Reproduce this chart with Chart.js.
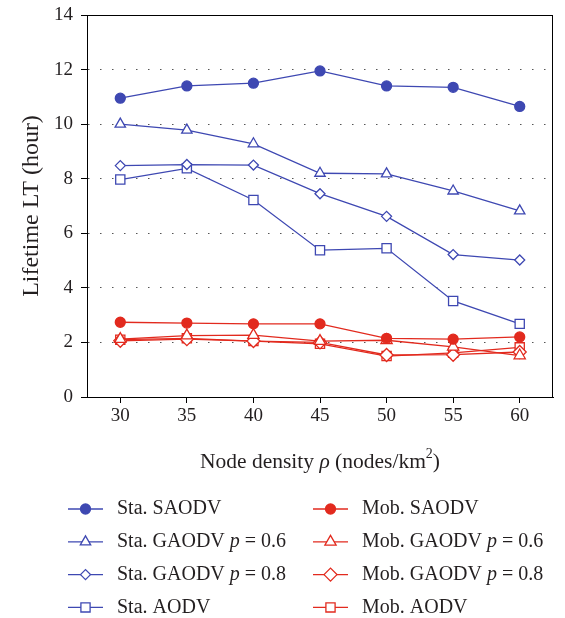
<!DOCTYPE html>
<html>
<head>
<meta charset="utf-8">
<script src="https://cdn.jsdelivr.net/npm/chart.js@4.4.0/dist/chart.umd.min.js"></script>
<style>
  html, body { margin: 0; padding: 0; background: #fff; }
</style>
</head>
<body>
<canvas id="myChart" width="565" height="618"></canvas>
<script>
// node density (x categories)
const densities = ['30', '35', '40', '45', '50', '55', '60'];
const yTicks = [0, 2, 4, 6, 8, 10, 12, 14];

// static nodes
const staSAODV  = [10.95, 11.4, 11.5, 11.95, 11.4, 11.35, 10.65];
const staGAODV6 = [10.0, 9.78, 9.28, 8.2, 8.18, 7.55, 6.82];
const staGAODV8 = [8.48, 8.52, 8.5, 7.45, 6.62, 5.22, 5.02];
const staAODV   = [7.97, 8.38, 7.22, 5.38, 5.45, 3.52, 2.68];

// mobile nodes
const mobSAODV  = [2.74, 2.71, 2.68, 2.68, 2.15, 2.12, 2.2];
const mobGAODV6 = [2.12, 2.25, 2.27, 2.05, 2.08, 1.84, 1.52];
const mobGAODV8 = [2.06, 2.12, 2.05, 2.0, 1.54, 1.55, 1.65];
const mobAODV   = [2.1, 2.15, 2.05, 1.95, 1.5, 1.62, 1.82];

const BLUE = 'rgb(62, 72, 178)';
const RED = 'rgb(226, 42, 30)';
const SERIF = '"Liberation Serif", "DejaVu Serif", serif';
const TXT = '#231f20';

function series(label, data, color, style, radius, filled) {
    return {
        label: label,
        data: data,
        borderColor: color,
        backgroundColor: filled ? color : '#fff',
        borderWidth: 1.3,
        pointStyle: style,
        pointRadius: radius,
        pointBorderWidth: 1.3,
        pointBackgroundColor: filled ? color : '#fff',
        pointBorderColor: color,
        tension: 0
    };
}

// legend text pieces, italic bits marked
const legendParts = [
    [{t: 'Sta. SAODV'}],
    [{t: 'Sta. GAODV '}, {t: 'p', i: true}, {t: ' = 0.6'}],
    [{t: 'Sta. GAODV '}, {t: 'p', i: true}, {t: ' = 0.8'}],
    [{t: 'Sta. AODV'}],
    [{t: 'Mob. SAODV'}],
    [{t: 'Mob. GAODV '}, {t: 'p', i: true}, {t: ' = 0.6'}],
    [{t: 'Mob. GAODV '}, {t: 'p', i: true}, {t: ' = 0.8'}],
    [{t: 'Mob. AODV'}]
];

function drawRich(ctx, parts, x, y, size, align) {
    let total = 0;
    parts.forEach(p => {
        const s = p.sup ? size * 0.65 : size;
        ctx.font = (p.i ? 'italic ' : '') + s + 'px ' + SERIF;
        p.w = ctx.measureText(p.t).width;
        total += p.w;
    });
    let cx = align === 'center' ? x - total / 2 : x;
    parts.forEach(p => {
        const s = p.sup ? size * 0.65 : size;
        ctx.font = (p.i ? 'italic ' : '') + s + 'px ' + SERIF;
        ctx.fillText(p.t, cx, p.sup ? y - size * 0.38 : y);
        cx += p.w;
    });
}

const extras = {
    id: 'extras',
    afterDraw(chart) {
        const ctx = chart.ctx;
        const a = chart.chartArea;
        ctx.save();
        // frame
        ctx.strokeStyle = '#000';
        ctx.lineWidth = 1;
        ctx.strokeRect(a.left + 0.5, a.top + 0.5, a.right - a.left - 1, a.bottom - a.top);

        // x title
        ctx.fillStyle = TXT;
        ctx.textBaseline = 'middle';
        ctx.textAlign = 'left';
        drawRich(ctx, [{t: 'Node density '}, {t: 'ρ', i: true}, {t: ' (nodes/km'}, {t: '2', sup: true}, {t: ')'}],
            (a.left + a.right) / 2, 462, 21.5, 'center');

        // legend, two columns of four
        chart.data.datasets.forEach((ds, i) => {
            const col = Math.floor(i / 4), row = i % 4;
            const lx = col === 0 ? 68 : 313;
            const ly = 509 + row * 32.8;
            ctx.strokeStyle = ds.borderColor;
            ctx.lineWidth = 1.3;
            ctx.beginPath();
            ctx.moveTo(lx, ly);
            ctx.lineTo(lx + 35, ly);
            ctx.stroke();
            ctx.fillStyle = ds.pointBackgroundColor;
            Chart.helpers.drawPoint(ctx, {
                pointStyle: ds.pointStyle,
                radius: ds.pointRadius,
                rotation: 0,
                borderWidth: 1.3
            }, lx + 17.5, ly);
            ctx.fillStyle = TXT;
            drawRich(ctx, legendParts[i], lx + 49, ly, 20, 'left');
        });
        ctx.restore();
    }
};

const ctx = document.getElementById('myChart').getContext('2d');
const chart = new Chart(ctx, {
    type: 'line',
    data: {
        labels: densities,
        datasets: [
            series('Sta. SAODV', staSAODV, BLUE, 'circle', 5, true),
            series('Sta. GAODV p = 0.6', staGAODV6, BLUE, 'triangle', 6, false),
            series('Sta. GAODV p = 0.8', staGAODV8, BLUE, 'rectRot', 5, false),
            series('Sta. AODV', staAODV, BLUE, 'rect', 6.5, false),
            series('Mob. SAODV', mobSAODV, RED, 'circle', 5, true),
            series('Mob. GAODV p = 0.6', mobGAODV6, RED, 'triangle', 6.5, false),
            series('Mob. GAODV p = 0.8', mobGAODV8, RED, 'rectRot', 6.5, false),
            series('Mob. AODV', mobAODV, RED, 'rect', 6.5, false)
        ]
    },
    options: {
        responsive: false,
        animation: false,
        layout: { padding: { top: 15, right: 12, left: 0, bottom: 191 } },
        plugins: {
            legend: { display: false },
            tooltip: { enabled: false }
        },
        scales: {
            x: {
                type: 'category',
                offset: true,
                grid: {
                    offset: false,
                    drawOnChartArea: false,
                    tickLength: 6,
                    tickColor: '#000',
                    tickWidth: 1
                },
                border: { color: '#000', width: 1 },
                ticks: { color: TXT, font: { family: SERIF, size: 19 }, padding: 2, maxRotation: 0 },
                afterFit(scale) {
                    scale.height = 30;
                    scale.paddingLeft = 0;
                    scale.paddingRight = 0;
                }
            },
            y: {
                min: 0,
                max: 14,
                afterBuildTicks(scale) { scale.ticks = yTicks.map(v => ({ value: v })); },
                grid: {
                    color: c => (c.tick && (c.tick.value === 0 || c.tick.value === 14)) ? 'rgba(0,0,0,0)' : '#555',
                    lineWidth: 1,
                    tickLength: 6,
                    tickColor: '#000',
                    tickWidth: 1
                },
                border: { color: '#000', width: 1, dash: [1.5, 10.5] },
                ticks: { color: TXT, font: { family: SERIF, size: 19 }, padding: 8 },
                title: {
                    display: true,
                    text: 'Lifetime LT (hour)',
                    color: TXT,
                    font: { family: SERIF, size: 24 },
                    padding: { top: 17, bottom: 0 }
                },
                afterFit(scale) {
                    scale.width = 87;
                    scale.paddingTop = 0;
                    scale.paddingBottom = 0;
                }
            }
        }
    },
    plugins: [extras]
});
</script>
</body>
</html>
